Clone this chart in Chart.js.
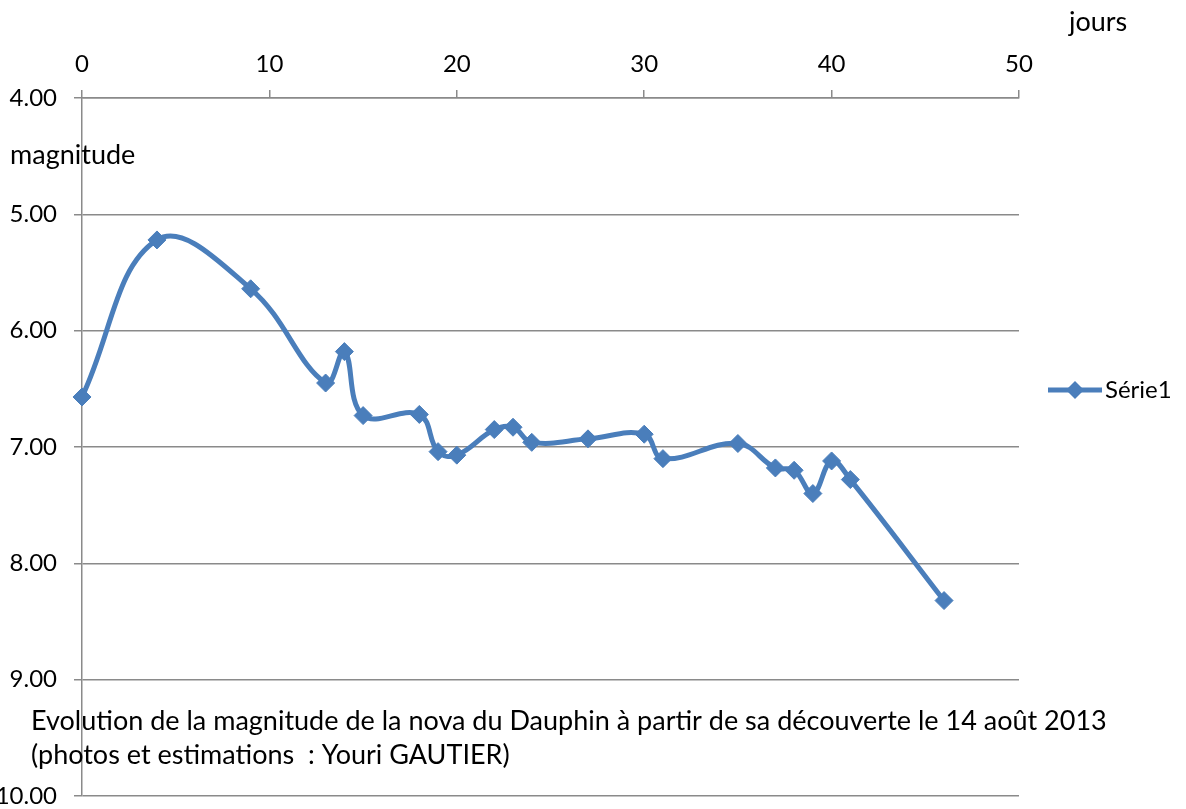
<!DOCTYPE html>
<html>
<head>
<meta charset="utf-8">
<script src="https://cdn.jsdelivr.net/npm/chart.js@4"></script>
<style>
  html, body { margin: 0; padding: 0; background: #fff; }
  #wrap { position: relative; width: 1186px; height: 809px; }
</style>
</head>
<body>
<div id="wrap"><canvas id="chart" width="1186" height="809"></canvas></div>
<script>
// jours depuis la découverte / magnitude estimée
const days = [0, 4, 9, 13, 14, 15, 18, 19, 20, 22, 23, 24, 27, 30, 31, 35, 37, 38, 39, 40, 41, 46];
const mags = [6.57, 5.22, 5.64, 6.45, 6.18, 6.73, 6.72, 7.04, 7.07, 6.85, 6.83, 6.96, 6.93, 6.89, 7.10, 6.97, 7.18, 7.20, 7.40, 7.12, 7.28, 8.32];
const seriesName = 'Série1';
const xTitle = 'jours';
const yTitle = 'magnitude';
const captionLines = [
  'Evolution de la magnitude de la nova du Dauphin à partir de sa découverte le 14 août 2013',
  '(photos et estimations  : Youri GAUTIER)'
];

const FONT = 'Lato, "Open Sans", sans-serif';
const blue = '#4a7ebb';
const gridGray = '#8a8a8a';

// extra texts + legend drawn on the canvas
const extras = {
  id: 'extras',
  afterDraw(chart) {
    const ctx = chart.ctx;
    ctx.save();
    ctx.fillStyle = '#000';
    ctx.textBaseline = 'middle';
    ctx.textAlign = 'left';
    ctx.font = '27px ' + FONT;
    ctx.fillText(xTitle, 1069, 22);
    ctx.fillText(yTitle, 10, 155);
    ctx.fillText(captionLines[0], 31, 721);
    ctx.fillText(captionLines[1], 31, 755);

    // legend
    ctx.strokeStyle = blue;
    ctx.lineWidth = 5;
    ctx.beginPath();
    ctx.moveTo(1048, 390);
    ctx.lineTo(1102, 390);
    ctx.stroke();
    ctx.fillStyle = blue;
    ctx.beginPath();
    ctx.moveTo(1075, 381);
    ctx.lineTo(1084, 390);
    ctx.lineTo(1075, 399);
    ctx.lineTo(1066, 390);
    ctx.closePath();
    ctx.fill();
    ctx.fillStyle = '#000';
    ctx.font = '24px ' + FONT;
    ctx.fillText(seriesName, 1105, 390);
    ctx.restore();
  }
};

new Chart(document.getElementById('chart'), {
  type: 'line',
  data: {
    datasets: [{
      label: seriesName,
      data: days.map((d, i) => ({ x: d, y: mags[i] })),
      borderColor: blue,
      backgroundColor: blue,
      borderWidth: 5,
      tension: 0.4,
      pointStyle: 'rectRot',
      pointRadius: 9,
      pointBorderWidth: 1,
      pointBackgroundColor: blue,
      pointBorderColor: blue,
      clip: false
    }]
  },
  options: {
    responsive: false,
    animation: false,
    layout: { padding: { left: 0, right: 167, top: 0, bottom: 13 } },
    plugins: {
      legend: { display: false },
      tooltip: { enabled: false }
    },
    scales: {
      x: {
        type: 'linear',
        position: 'top',
        min: 0,
        max: 50,
        ticks: { stepSize: 10, color: '#000', font: { size: 24, family: FONT }, padding: 11 },
        grid: { drawOnChartArea: false, drawTicks: true, tickLength: 8, color: gridGray, lineWidth: 1.5 },
        border: { display: true, color: gridGray, width: 1.5 },
        afterFit(scale) { scale.height = 98; scale.paddingLeft = 0; scale.paddingRight = 0; }
      },
      y: {
        reverse: true,
        min: 4,
        max: 10,
        ticks: {
          stepSize: 1,
          color: '#000',
          font: { size: 24, family: FONT },
          padding: 17,
          callback: v => Number(v).toFixed(2)
        },
        grid: { color: gridGray, lineWidth: 1.5, tickLength: 8 },
        border: { display: true, color: gridGray, width: 1.5 },
        afterFit(scale) { scale.width = 82; scale.paddingTop = 0; scale.paddingBottom = 0; }
      }
    }
  },
  plugins: [extras]
});
</script>
</body>
</html>
